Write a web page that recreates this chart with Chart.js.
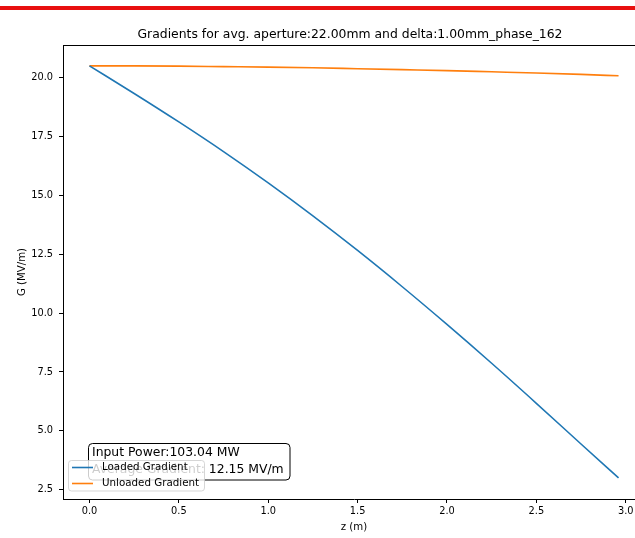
<!DOCTYPE html>
<html>
	<head>
		<meta charset="utf-8">
		<title>Gradients</title>
		<style type="text/css">
			html,body{margin:0;padding:0;background:#fff;overflow:hidden;width:635px;height:538px;}
			#redline{position:absolute;left:0;top:6px;width:635px;height:4px;background:#e8100f;}
			#chart-gradient{position:absolute;left:0;top:0;}
		</style>
	</head>
	<body>
		<div id="redline"></div>
		<canvas id="chart-gradient" width="660" height="538"></canvas>
		<script src="https://cdn.jsdelivr.net/npm/chart.js@4"></script>
		<script type="text/javascript">
			// data
			const zValues = [0, 0.25, 0.5, 0.75, 1.0, 1.25, 1.5, 1.75, 2.0, 2.25, 2.5, 2.75, 2.96];
			const loadedGradient = [20.5, 19.33, 18.12, 16.86, 15.53, 14.13, 12.66, 11.12, 9.52, 7.87, 6.17, 4.44, 3.0];
			const unloadedGradient = [20.5, 20.5, 20.49, 20.47, 20.45, 20.42, 20.38, 20.34, 20.3, 20.25, 20.2, 20.14, 20.08];
			const xTicks = [0, 0.5, 1.0, 1.5, 2.0, 2.5, 3.0];
			const yTicks = [2.5, 5.0, 7.5, 10.0, 12.5, 15.0, 17.5, 20.0];
			const seriesNames = ['Loaded Gradient', 'Unloaded Gradient'];
			const infoLines = ['Input Power:103.04 MW', 'Average Gradient: 12.15 MV/m'];
			const titleText = 'Gradients for avg. aperture:22.00mm and delta:1.00mm_phase_162';

			const FONT = '"DejaVu Sans", sans-serif';
			const BLUE = '#1f77b4', ORANGE = '#ff7f0e';

			function pts(ys){
				return zValues.map((z,i) => ({x: z, y: ys[i]}));
			}

			function roundRect(ctx, x, y, w, h, r){
				ctx.beginPath();
				ctx.moveTo(x+r, y);
				ctx.arcTo(x+w, y, x+w, y+h, r);
				ctx.arcTo(x+w, y+h, x, y+h, r);
				ctx.arcTo(x, y+h, x, y, r);
				ctx.arcTo(x, y, x+w, y, r);
				ctx.closePath();
			}

			// title, axis labels, top spine, info box and legend
			const extras = {
				id: 'extras',
				afterDraw(chart){
					const ctx = chart.ctx;
					const a = chart.chartArea;
					ctx.save();
					// top spine
					ctx.strokeStyle = '#000';
					ctx.lineWidth = 1;
					ctx.beginPath();
					ctx.moveTo(a.left, a.top + 0.5);
					ctx.lineTo(a.right, a.top + 0.5);
					ctx.stroke();

					ctx.fillStyle = '#000';
					ctx.textAlign = 'center';
					ctx.textBaseline = 'alphabetic';
					ctx.font = '12.4px ' + FONT;
					ctx.fillText(titleText, 350, 38);

					ctx.font = '10.2px ' + FONT;
					ctx.textBaseline = 'middle';
					ctx.fillText('z (m)', 354, 527);
					ctx.save();
					ctx.translate(22, (a.top + a.bottom) / 2);
					ctx.rotate(-Math.PI / 2);
					ctx.fillText('G (MV/m)', 0, 0);
					ctx.restore();

					// info text box
					roundRect(ctx, 88.5, 443.5, 201.5, 36.5, 4);
					ctx.fillStyle = '#fff';
					ctx.fill();
					ctx.strokeStyle = '#000';
					ctx.stroke();
					ctx.fillStyle = '#000';
					ctx.textAlign = 'left';
					ctx.font = '12.4px ' + FONT;
					ctx.fillText(infoLines[0], 92, 453);
					ctx.fillText(infoLines[1], 92, 469.5);

					// legend
					roundRect(ctx, 68.5, 460.5, 136, 30.5, 3);
					ctx.fillStyle = 'rgba(255,255,255,0.8)';
					ctx.fill();
					ctx.strokeStyle = 'rgba(204,204,204,0.8)';
					ctx.stroke();
					const colors = [BLUE, ORANGE];
					const rows = [467.5, 483.5];
					ctx.font = '10.3px ' + FONT;
					seriesNames.forEach((name, i) => {
						ctx.strokeStyle = colors[i];
						ctx.lineWidth = 1.6;
						ctx.beginPath();
						ctx.moveTo(72, rows[i]);
						ctx.lineTo(93, rows[i]);
						ctx.stroke();
						ctx.fillStyle = '#000';
						ctx.fillText(name, 102, rows[i]);
					});
					ctx.restore();
				}
			};

			const tickFont = {family: FONT, size: 9.8};

			new Chart(document.getElementById('chart-gradient'), {
				type: 'line',
				data: {
					datasets: [{
						label: seriesNames[0],
						data: pts(loadedGradient),
						borderColor: BLUE,
						borderWidth: 1.6,
						pointRadius: 0,
						cubicInterpolationMode: 'monotone',
						fill: false
					},{
						label: seriesNames[1],
						data: pts(unloadedGradient),
						borderColor: ORANGE,
						borderWidth: 1.6,
						pointRadius: 0,
						cubicInterpolationMode: 'monotone',
						fill: false
					}]
				},
				options: {
					responsive: false,
					animation: false,
					layout: {padding: {left: 0, top: 45, right: 15, bottom: 0}},
					plugins: {legend: {display: false}, tooltip: {enabled: false}},
					scales: {
						x: {
							type: 'linear',
							min: -0.148,
							max: 3.108,
							afterFit(s){ s.height = 39; },
							afterBuildTicks(s){ s.ticks = xTicks.map(v => ({value: v})); },
							border: {display: true, color: '#000', width: 1},
							grid: {display: true, drawOnChartArea: false, drawTicks: true, tickLength: 4, tickColor: '#000'},
							ticks: {color: '#000', font: tickFont, padding: 3, maxRotation: 0, autoSkip: false,
								callback: v => v.toFixed(1)}
						},
						y: {
							type: 'linear',
							min: 2.105,
							max: 21.388,
							afterFit(s){ s.width = 63; },
							afterBuildTicks(s){ s.ticks = yTicks.map(v => ({value: v})); },
							border: {display: true, color: '#000', width: 1},
							grid: {display: true, drawOnChartArea: false, drawTicks: true, tickLength: 4, tickColor: '#000'},
							ticks: {color: '#000', font: tickFont, padding: 6, autoSkip: false,
								callback: v => v.toFixed(1)}
						}
					}
				},
				plugins: [extras]
			});
		</script>
	</body>
</html>
